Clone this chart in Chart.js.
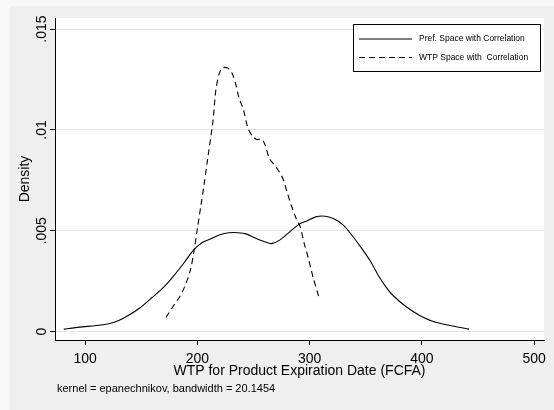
<!DOCTYPE html>
<html><head><meta charset="utf-8">
<script src="https://cdn.jsdelivr.net/npm/chart.js@4.4.1/dist/chart.umd.min.js"></script>
<style>
html,body{margin:0;padding:0;background:#efefef;}
canvas{display:block;}
</style></head><body>
<canvas id="c" width="554" height="410"></canvas>
<script>
// ---- data ----
const prefX = [81,95,110,122,130,138,149,160,170,178,188,196,204,212,220,228,236,244,252,260,266,273,282,290,298,306,314,322,330,338,346,354,362,368,374,386,398,410,425,442];
const prefY = [0.00012,0.00022,0.0003,0.0004,0.00055,0.00078,0.00118,0.0017,0.0022,0.0027,0.0034,0.0040,0.0044,0.0046,0.0048,0.0049,0.0049,0.00483,0.00463,0.00445,0.00436,0.00452,0.00493,0.0053,0.0055,0.0057,0.00572,0.00558,0.00528,0.00475,0.00415,0.0035,0.0027,0.0022,0.0018,0.00123,0.0008,0.0005,0.0003,0.00012];
const wtpX = [172,179,185,190,194,197,200,203,206,209.5,214,216.5,219.5,222,225,228,231,234,237,241,245,249,253,257,260,264,268,272,276,280,284,288,291.5,295,299,303,308];
const wtpY = [0.0007,0.0013,0.0018,0.0024,0.0031,0.004,0.0051,0.0062,0.0073,0.0087,0.0105,0.012,0.0128,0.01305,0.0131,0.01303,0.0128,0.0123,0.0116,0.011,0.0101,0.0097,0.00952,0.00955,0.0093,0.0086,0.0083,0.008,0.0076,0.0069,0.0062,0.0056,0.0052,0.0044,0.0036,0.0027,0.00175];
const seriesLabels = ['Pref. Space with Correlation', 'WTP Space with  Correlation'];
const xTicks = [100, 200, 300, 400, 500];
const yTicks = [0, 0.005, 0.01, 0.015];
const yTickLabels = ['0', '.005', '.01', '.015'];
const xTitle = 'WTP for Product Expiration Date (FCFA)';
const yTitle = 'Density';
const noteText = 'kernel = epanechnikov, bandwidth = 20.1454';

const FONT = '"Liberation Sans", Arial, sans-serif';

const bgPlugin = {
  id: 'bg',
  beforeDraw(chart) {
    const {ctx, chartArea: ca, width, height} = chart;
    ctx.save();
    ctx.fillStyle = '#efefef';
    ctx.fillRect(0, 0, width, height);
    ctx.fillStyle = '#f8f8f8';
    ctx.fillRect(0, 0, 10, height);
    ctx.fillRect(0, 0, width, 6);
    ctx.fillStyle = '#ffffff';
    ctx.fillRect(ca.left, ca.top, ca.right - ca.left, ca.bottom - ca.top);
    ctx.restore();
  }
};

const legendPlugin = {
  id: 'boxLegend',
  afterDatasetsDraw(chart) {
    const {ctx, chartArea: ca} = chart;
    const w = 187, h = 47;
    const x0 = ca.right - 4 - w, y0 = ca.top + 6;
    ctx.save();
    ctx.fillStyle = '#fff';
    ctx.fillRect(x0, y0, w, h);
    ctx.strokeStyle = '#000';
    ctx.lineWidth = 1;
    ctx.strokeRect(Math.round(x0) + 0.5, Math.round(y0) + 0.5, w, h);
    ctx.font = '8.5px ' + FONT;
    ctx.fillStyle = '#000';
    ctx.textBaseline = 'middle';
    chart.data.datasets.forEach((ds, i) => {
      const y = y0 + 15 + i * 18.5;
      ctx.beginPath();
      ctx.setLineDash(ds.borderDash || []);
      ctx.lineWidth = ds.borderWidth;
      ctx.moveTo(x0 + 6, y);
      ctx.lineTo(x0 + 59, y);
      ctx.stroke();
      ctx.setLineDash([]);
      ctx.fillText(ds.label, x0 + 66, y);
    });
    ctx.restore();
  }
};

const notePlugin = {
  id: 'note',
  afterDraw(chart) {
    const {ctx, chartArea: ca} = chart;
    ctx.save();
    ctx.font = '11px ' + FONT;
    ctx.fillStyle = '#000';
    ctx.textBaseline = 'middle';
    ctx.textAlign = 'left';
    ctx.fillText(noteText, ca.left + 2, ca.bottom + 49);
    ctx.restore();
  }
};

new Chart(document.getElementById('c'), {
  type: 'line',
  data: {
    datasets: [
      {
        label: seriesLabels[0],
        data: prefX.map((x, i) => ({x, y: prefY[i]})),
        borderColor: '#000', borderWidth: 1.1, pointRadius: 0, tension: 0.3, fill: false
      },
      {
        label: seriesLabels[1],
        data: wtpX.map((x, i) => ({x, y: wtpY[i]})),
        borderColor: '#000', borderWidth: 1.1, borderDash: [6, 4], pointRadius: 0, tension: 0.3, fill: false
      }
    ]
  },
  options: {
    responsive: false,
    animation: false,
    devicePixelRatio: 1,
    layout: {padding: {top: 18, right: 10, left: 0, bottom: 0}},
    plugins: {legend: {display: false}, tooltip: {enabled: false}},
    scales: {
      x: {
        type: 'linear',
        min: 73.2, max: 508.7,
        afterFit(s) { s.height = 70; },
        afterBuildTicks(s) { s.ticks = xTicks.map(v => ({value: v})); },
        border: {color: '#000', width: 1},
        grid: {drawOnChartArea: false, drawTicks: true, tickLength: 5, tickColor: '#000'},
        ticks: {font: {family: FONT, size: 14}, color: '#000', maxRotation: 0, autoSkip: false, padding: 6,
                callback: v => String(v)},
        title: {display: true, text: xTitle, font: {family: FONT, size: 14}, color: '#000', padding: {top: 30, bottom: 30}}
      },
      y: {
        type: 'linear',
        min: -0.00042, max: 0.01555,
        afterFit(s) { s.width = 55; },
        afterBuildTicks(s) { s.ticks = yTicks.map(v => ({value: v})); },
        border: {color: '#000', width: 1},
        grid: {color: '#e6e6e6', lineWidth: 1, drawTicks: true, tickLength: 5, tickColor: '#000'},
        ticks: {font: {family: FONT, size: 14}, color: '#000', minRotation: 90, maxRotation: 90,
                crossAlign: 'center', padding: -5.6, autoSkip: false,
                callback: (v) => { const k = yTicks.indexOf(v); return k >= 0 ? yTickLabels[k] : ''; }},
        title: {display: true, text: yTitle, font: {family: FONT, size: 14}, color: '#000', padding: {top: 16.6, bottom: 16.6}}
      }
    }
  },
  plugins: [bgPlugin, legendPlugin, notePlugin]
});
</script>
</body></html>
